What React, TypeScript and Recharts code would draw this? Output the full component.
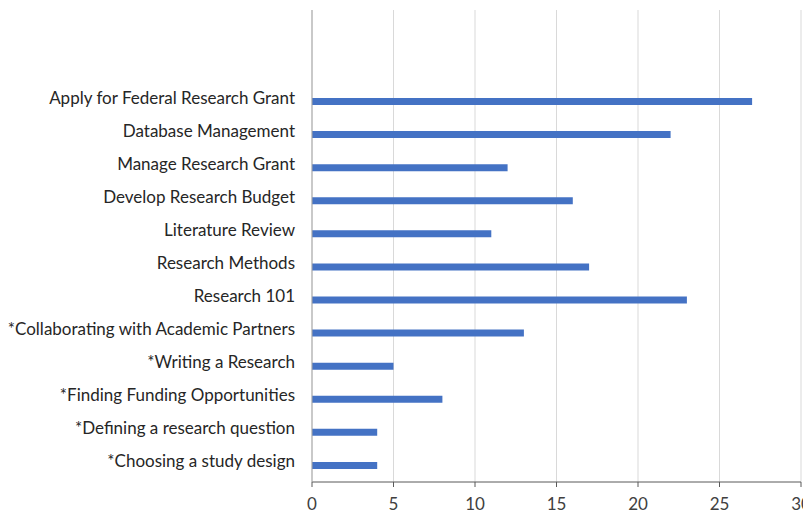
import { Bar, BarChart, CartesianGrid, XAxis, YAxis } from "recharts";

// Workshop names, top to bottom as they appear on the chart.
const workshops = [
  "Apply for Federal Research Grant",
  "Database Management ",
  "Manage Research Grant",
  "Develop Research Budget",
  "Literature Review",
  "Research Methods",
  "Research 101",
  "*Collaborating with Academic Partners",
  "*Writing a Research ",
  "*Finding Funding Opportunities",
  "*Defining a research question",
  "*Choosing a study design",
];

const counts = [27, 22, 12, 16, 11, 17, 23, 13, 5, 8, 4, 4];

const xTicks = [0, 5, 10, 15, 20, 25, 30];

const data = workshops.map((name, i) => ({ name, count: counts[i] }));

const FONT = "Lato, 'DejaVu Sans Condensed', sans-serif";

export default function App() {
  return (
    <BarChart
      width={803}
      height={507}
      data={data}
      layout="vertical"
      margin={{ top: 2, right: 10, bottom: 0, left: 0 }}
    >
      <CartesianGrid horizontal={false} stroke="#d9d9d9" />
      <XAxis
        type="number"
        domain={[0, 30]}
        ticks={xTicks}
        height={33}
        interval={0}
        axisLine={{ stroke: "#595959" }}
        tickLine={{ stroke: "#595959" }}
        tickSize={5}
        tickMargin={11}
        tick={{ fill: "#404040", fontSize: 17, fontFamily: FONT }}
      />
      <YAxis
        type="category"
        dataKey="name"
        width={304}
        padding={{ top: 75, bottom: 0 }}
        interval={0}
        axisLine={{ stroke: "#a6a6a6" }}
        tickLine={false}
        tickSize={0}
        tickMargin={17}
        tick={{ fill: "#262626", fontSize: 17, fontFamily: FONT, dy: -4 }}
      />
      <Bar dataKey="count" fill="#4472c4" barSize={7} isAnimationActive={false} />
    </BarChart>
  );
}
